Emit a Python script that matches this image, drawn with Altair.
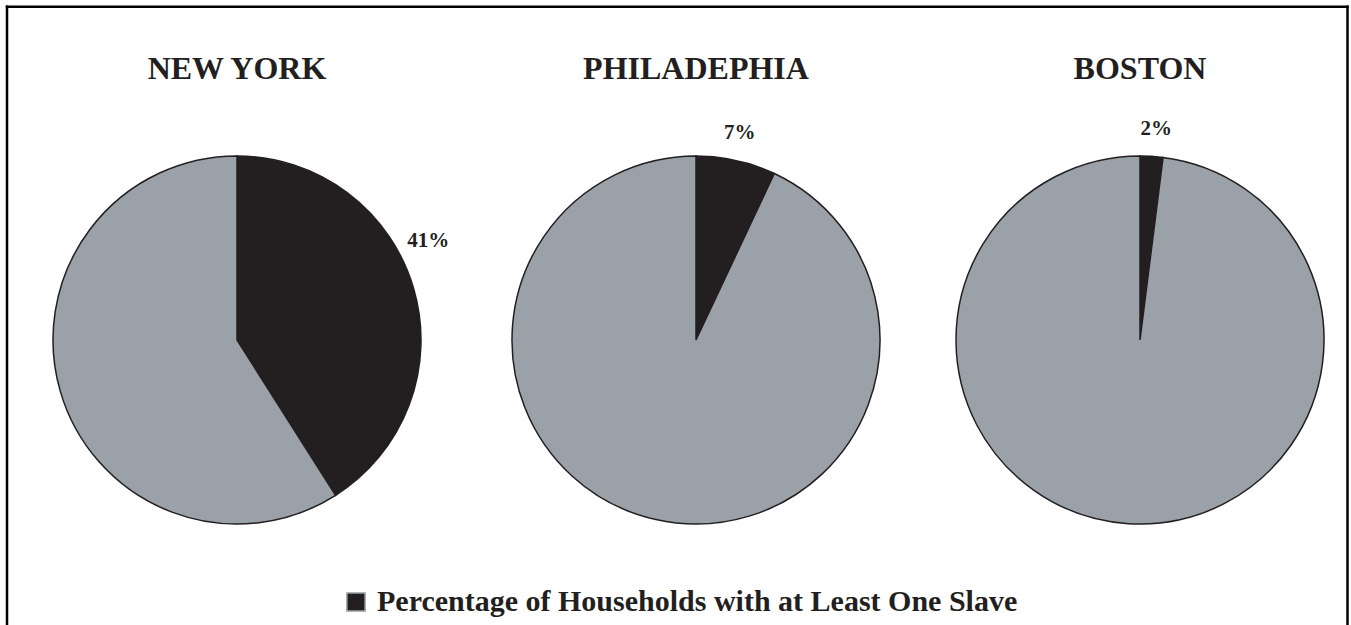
import math

import altair as alt
import pandas as pd

# Share of households owning slaves, by city
cities = ["NEW YORK", "PHILADEPHIA", "BOSTON"]
with_slave = [41, 7, 2]
without_slave = [59, 93, 98]
series_names = [
    "Percentage of Households with at Least One Slave",
    "Percentage of Households without Slaves",
]

SLICE_DARK = "#231f20"
SLICE_GREY = "#9ba1a8"
SERIF = "Liberation Serif"

# slice table: each city's two slices laid end to end from 12 o'clock
rows = []
for i, city in enumerate(cities):
    start = 0
    for k, val in enumerate([with_slave[i], without_slave[i]]):
        rows.append({"city": city, "pos": i, "series": series_names[k],
                     "value": val, "start": start, "end": start + val})
        start += val
df = pd.DataFrame(rows)
label_df = df[df["series"] == series_names[0]].copy()
title_df = pd.DataFrame({"city": cities, "pos": list(range(len(cities)))})
frame_df = pd.DataFrame({"k": [0]})

# one pie per city, placed along a piecewise x scale (no stacking on x)
x_enc = alt.X("pos:Q", axis=None, stack=False,
              scale=alt.Scale(domain=[0, 1, 2], range=[237, 696, 1140]))
theta_scale = alt.Scale(domain=[0, 100], range=[0, 2 * math.pi])

pies = alt.Chart(df).mark_arc(
    radius=184, stroke=SLICE_DARK, strokeWidth=1.5
).encode(
    x=x_enc,
    y=alt.value(340),
    theta=alt.Theta("start:Q", scale=theta_scale, stack=False),
    theta2="end:Q",
    color=alt.Color(
        "series:N",
        scale=alt.Scale(domain=series_names, range=[SLICE_DARK, SLICE_GREY]),
        legend=alt.Legend(
            values=[series_names[0]],
            title=None,
            orient="none",
            legendX=341,
            legendY=587,
            symbolType="square",
            symbolSize=330,
            symbolStrokeColor=SLICE_GREY,
            symbolStrokeWidth=1.5,
            symbolOpacity=1,
            labelFont=SERIF,
            labelFontSize=30,
            labelFontWeight="bold",
            labelColor=SLICE_DARK,
            labelOffset=6,
            labelLimit=900,
        ),
    ),
)

labels = alt.Chart(label_df).transform_calculate(
    lab_t="datum.start + 0.42 * datum.value",
    label="datum.value + '%'",
).mark_text(
    radius=211, dx=5, font=SERIF, fontSize=21, fontWeight="bold",
    color=SLICE_DARK, align="center", baseline="middle",
).encode(
    x=x_enc,
    y=alt.value(340),
    theta=alt.Theta("lab_t:Q", scale=theta_scale, stack=False),
    text="label:N",
)

titles = alt.Chart(title_df).mark_text(
    font=SERIF, fontSize=32, fontWeight="bold", color=SLICE_DARK,
    align="center", baseline="alphabetic",
).encode(x=x_enc, y=alt.value(79), text="city:N")

# outer frame (left, top, right)
frame_left = alt.Chart(frame_df).mark_rule(color="#000000", strokeWidth=2.5).encode(
    x=alt.value(7), y=alt.value(5.5), y2=alt.value(625))
frame_top = alt.Chart(frame_df).mark_rule(color="#000000", strokeWidth=2.5).encode(
    x=alt.value(5.8), x2=alt.value(1348.7), y=alt.value(6.8))
frame_right = alt.Chart(frame_df).mark_rule(color="#000000", strokeWidth=2.5).encode(
    x=alt.value(1347.5), y=alt.value(5.5), y2=alt.value(625))

chart = alt.layer(
    pies, labels, titles, frame_left, frame_top, frame_right
).properties(
    width=1351,
    height=625,
    autosize=alt.AutoSizeParams(type="none"),
    padding=0,
    background="#ffffff",
).configure_view(strokeWidth=0)

chart.save("out.html", embed_options={"renderer": "svg", "actions": False})
